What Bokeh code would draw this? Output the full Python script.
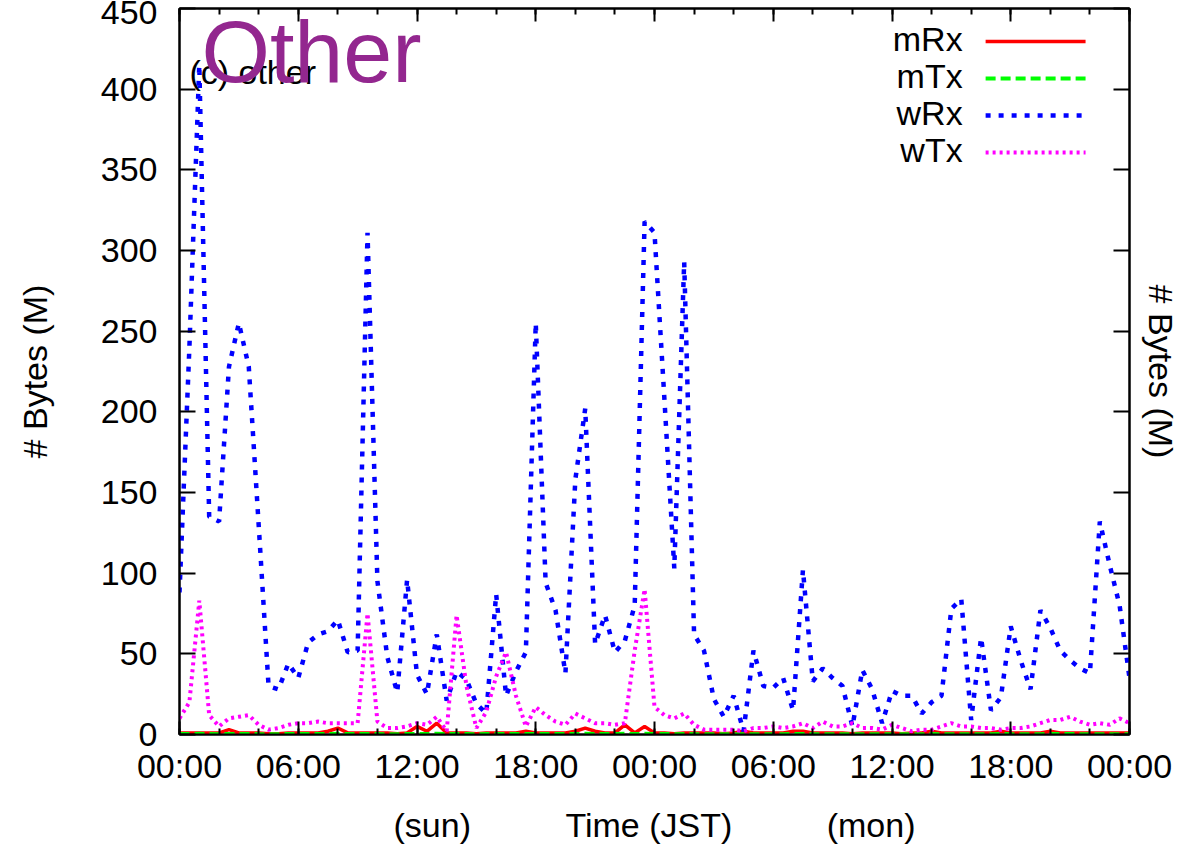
from bokeh.plotting import figure
from bokeh.models import Range1d, LinearAxis, FixedTicker, Label
from bokeh.embed import file_html
from bokeh.resources import INLINE

# Traffic of the "other" class, sampled every 30 minutes over two days (MBytes)
STEP_HOURS = 0.5

mRx = [1, 1, 1, 1, 1, 3, 1, 1, 1, 0.5, 0.5, 1,
       1, 1, 1, 2, 4, 1, 1, 1, 1, 1, 0.5, 1,
       5, 2, 7, 1, 1, 1, 0.5, 1, 1, 1, 1, 2,
       1, 1, 1, 1, 2, 4, 2, 1, 1, 6, 1, 5,
       1, 1, 0.5, 1, 1, 1, 1, 0.5, 1, 2, 1, 1,
       1, 1, 2, 2, 1, 1, 1, 1, 0.5, 1, 1, 1,
       1, 0.5, 1, 1, 2, 1, 1, 1, 1, 1, 1, 2,
       1, 1, 1, 1, 2, 1, 1, 1, 1, 1, 1, 1,
       1]

mTx = [0.3, 0.3, 0.4, 0.3, 0.2, 0.3, 0.3, 0.3, 0.2, 0.2, 0.2, 0.3,
       0.3, 0.3, 0.3, 0.3, 0.4, 0.3, 0.3, 0.3, 0.3, 0.2, 0.2, 0.3,
       0.4, 0.3, 0.5, 0.3, 0.3, 0.3, 0.2, 0.3, 0.3, 0.3, 0.3, 0.3,
       0.3, 0.3, 0.3, 0.3, 0.3, 0.4, 0.3, 0.3, 0.3, 0.4, 0.3, 0.4,
       0.3, 0.3, 0.2, 0.3, 0.2, 0.2, 0.2, 0.2, 0.2, 0.2, 0.2, 0.2,
       0.2, 0.2, 0.3, 0.3, 0.2, 0.2, 0.2, 0.2, 0.2, 0.2, 0.2, 0.2,
       0.2, 0.2, 0.2, 0.2, 0.3, 0.2, 0.2, 0.2, 0.2, 0.2, 0.2, 0.3,
       0.2, 0.2, 0.2, 0.2, 0.3, 0.3, 0.3, 0.2, 0.2, 0.2, 0.2, 0.2,
       0.2]

wRx = [88, 240, 415, 135, 132, 228, 255, 228, 130, 30, 28, 44,
       35, 57, 62, 64, 71, 51, 52, 311, 95, 48, 26, 96,
       37, 25, 62, 21, 39, 34, 19, 13, 87, 24, 39, 51,
       255, 94, 77, 38, 158, 202, 56, 74, 51, 58, 80, 318,
       311, 208, 103, 293, 62, 52, 22, 11, 24, 2, 52, 30,
       29, 35, 15, 102, 33, 41, 35, 30, 5, 40, 28, 7,
       27, 24, 24, 13, 20, 24, 78, 84, 9, 60, 15, 23,
       67, 46, 28, 77, 66, 52, 46, 41, 38, 132, 105, 80,
       35]

wTx = [10, 20, 83, 12, 5, 10, 11, 12, 6, 3, 4, 6,
       7, 7, 8, 7, 7, 7, 7, 75, 8, 4, 4, 5,
       7, 6, 11, 2, 74, 30, 4, 14, 36, 51, 24, 5,
       17, 12, 8, 6, 13, 10, 7, 7, 6, 7, 52, 90,
       17, 12, 10, 13, 6, 3, 3, 3, 3, 2, 4, 4,
       5, 4, 5, 7, 4, 8, 5, 5, 7, 4, 4, 3,
       6, 4, 2, 3, 3, 5, 7, 5, 5, 4, 4, 3,
       4, 4, 5, 7, 9, 9, 11, 8, 6, 7, 6, 10,
       7]

hours = [i * STEP_HOURS for i in range(len(wRx))]

tick_hours = [0, 6, 12, 18, 24, 30, 36, 42, 48]
tick_labels = ["00:00", "06:00", "12:00", "18:00", "00:00",
               "06:00", "12:00", "18:00", "00:00"]
minor_hours = list(range(0, 49, 2))
y_ticks = list(range(0, 451, 50))
Y_TOP = 450

series_names = ["mRx", "mTx", "wRx", "wTx"]
series_colors = ["#ff0000", "#00ff00", "#0000ff", "#ff00ff"]
series_widths = [3.5, 4, 4.5, 4]
series_dashes = ["solid", "10 5", "5 8", "3 4"]

FONT = "Liberation Sans"
TICK_FONT_SIZE = "34px"
NBSP = "\u00a0"
GAP = NBSP * 10
X_TITLE = "(sun)" + GAP + "Time (JST)" + GAP + "(mon)"
Y_TITLE = "# Bytes (M)"

p = figure(width=1182, height=846, output_backend="svg", toolbar_location=None,
           x_range=Range1d(0, 48), y_range=Range1d(0, Y_TOP),
           min_border_left=179, min_border_right=52,
           min_border_top=8, min_border_bottom=112,
           background_fill_color="white", border_fill_color="white")
p.grid.visible = False
p.outline_line_color = "black"
p.outline_line_width = 2

x_ticker = FixedTicker(ticks=tick_hours, minor_ticks=minor_hours)
y_ticker = FixedTicker(ticks=y_ticks, minor_ticks=[])


def style_axis(ax, major_len, minor_len):
    ax.axis_line_color = "black"
    ax.axis_line_width = 2
    ax.major_tick_in = major_len
    ax.major_tick_out = 0
    ax.minor_tick_in = minor_len
    ax.minor_tick_out = 0
    ax.major_tick_line_width = 2
    ax.minor_tick_line_width = 2
    ax.major_tick_line_color = "black"
    ax.minor_tick_line_color = "black"
    ax.major_label_text_font = FONT
    ax.major_label_text_font_size = TICK_FONT_SIZE
    ax.major_label_text_color = "black"
    ax.axis_label_text_font = FONT
    ax.axis_label_text_font_size = TICK_FONT_SIZE
    ax.axis_label_text_font_style = "normal"
    ax.axis_label_text_color = "black"


xb = p.xaxis[0]
xb.ticker = x_ticker
xb.major_label_overrides = {h: s for h, s in zip(tick_hours, tick_labels)}
style_axis(xb, 13, 6)
xb.major_label_standoff = 12
xb.axis_label = X_TITLE
xb.axis_label_standoff = 18

yl = p.yaxis[0]
yl.ticker = y_ticker
style_axis(yl, 16, 0)
yl.major_label_standoff = 22
yl.axis_label = Y_TITLE
yl.axis_label_standoff = 44

# mirrored ticks along the top and right edges
xt = LinearAxis(ticker=x_ticker)
style_axis(xt, 13, 6)
xt.major_label_text_font_size = "0px"
xt.major_label_standoff = 0
p.add_layout(xt, "above")

yr = LinearAxis(ticker=y_ticker)
style_axis(yr, 16, 0)
yr.major_label_text_font_size = "0px"
yr.major_label_standoff = 0
yr.axis_label = Y_TITLE
yr.axis_label_standoff = 12
p.add_layout(yr, "right")

# data lines, drawn in gnuplot order
for name, ys, col, lw, dash in zip(series_names, [mRx, mTx, wRx, wTx],
                                   series_colors, series_widths, series_dashes):
    p.line(hours, ys, line_color=col, line_width=lw, line_dash=dash)

# key in the upper right: label on the left, sample line on the right
KEY_TEXT_X = 39.57
KEY_LINE_X0, KEY_LINE_X1 = 40.73, 45.78
KEY_Y0, KEY_DY = 431.0, 22.9
for i, (name, col, lw, dash) in enumerate(zip(series_names, series_colors,
                                              series_widths, series_dashes)):
    ky = KEY_Y0 - i * KEY_DY
    p.add_layout(Label(x=KEY_TEXT_X, y=ky, text=name, text_align="right",
                       text_baseline="middle", text_font=FONT,
                       text_font_size=TICK_FONT_SIZE, text_color="black"))
    p.line([KEY_LINE_X0, KEY_LINE_X1], [ky - 1.5, ky - 1.5], line_color=col,
           line_width=lw, line_dash=dash)

# panel captions
p.add_layout(Label(x=0.5, y=410.5, text="(c) other", text_align="left",
                   text_baseline="alphabetic", text_font=FONT,
                   text_font_size="34px", text_color="black"))
p.add_layout(Label(x=1.11, y=423.3, text="Other", text_align="left",
                   text_baseline="alphabetic", text_font=FONT,
                   text_font_size="88px", text_color="#93278f"))

open("out.html", "w").write(file_html(p, INLINE))
